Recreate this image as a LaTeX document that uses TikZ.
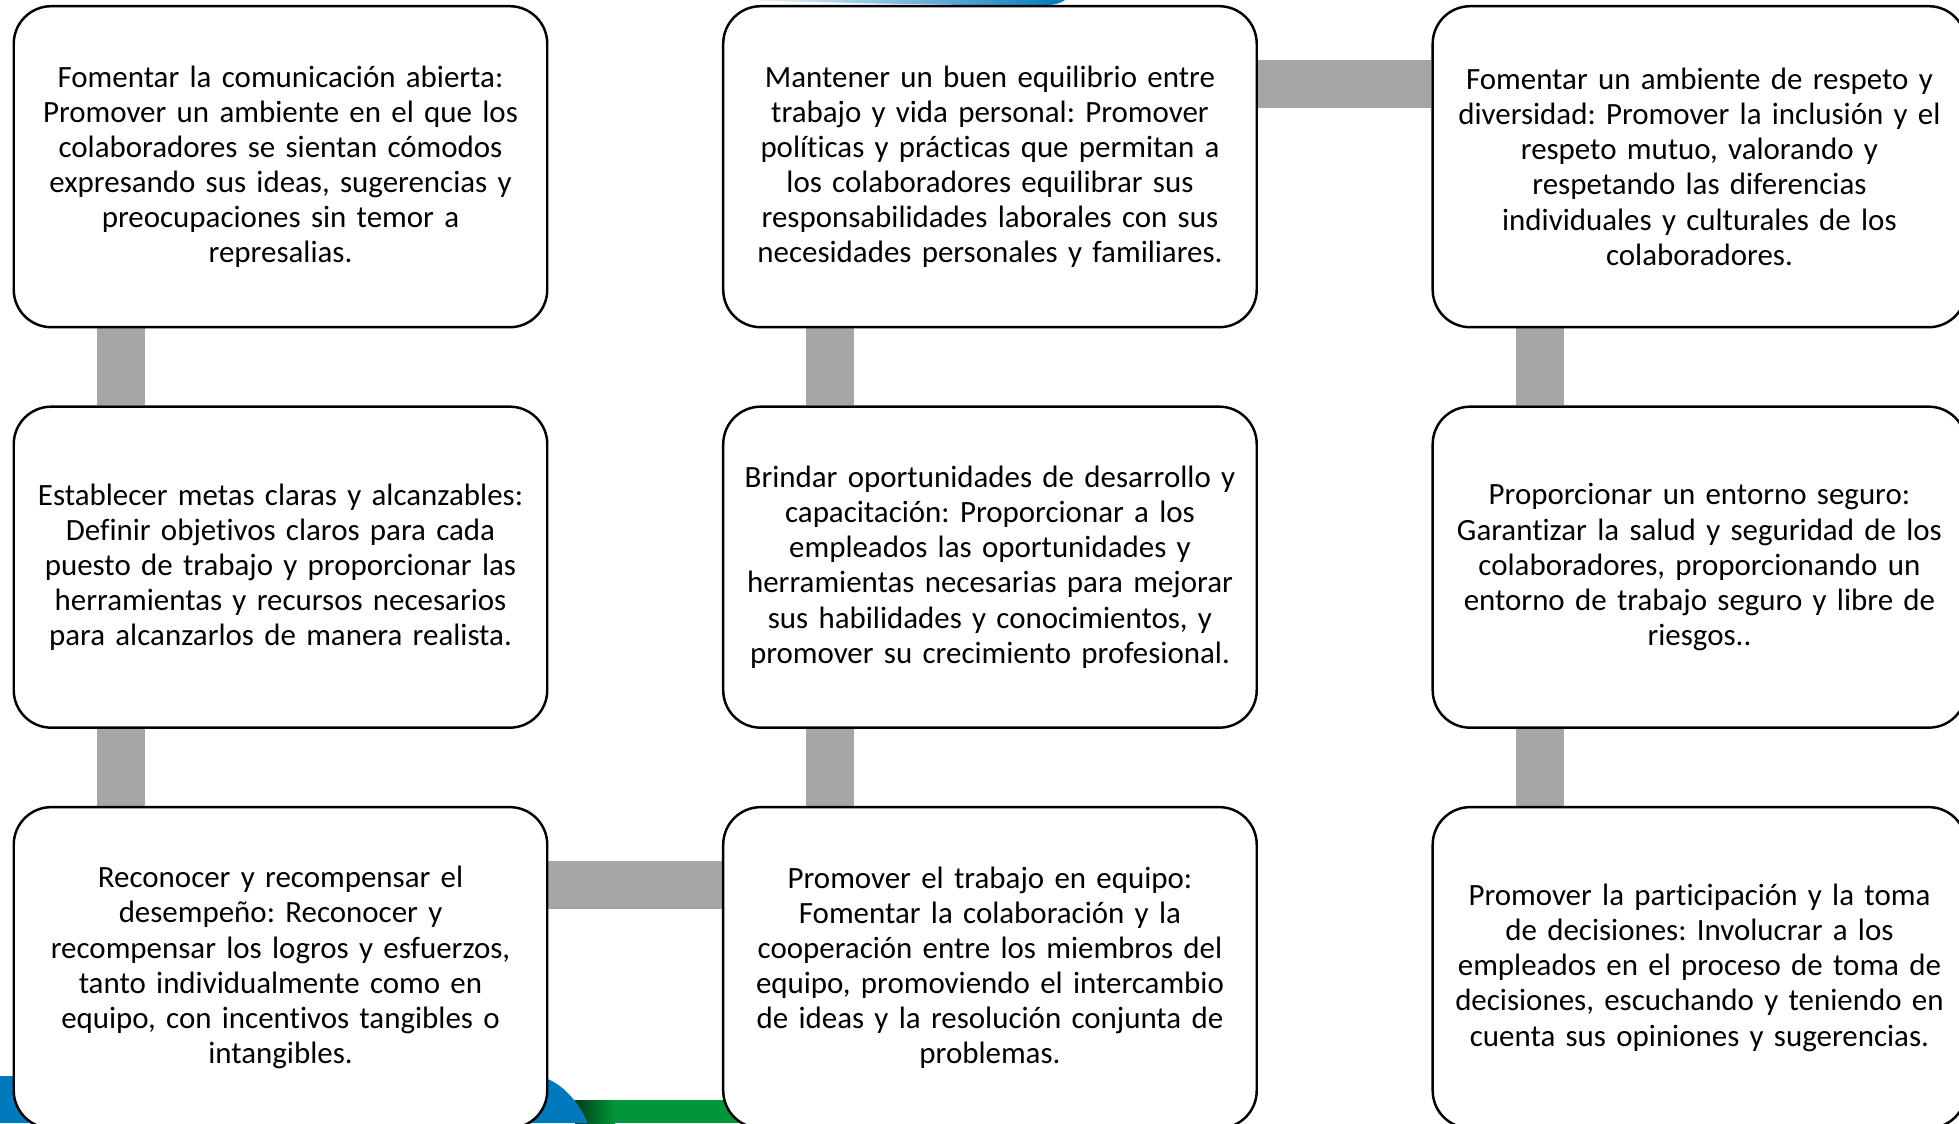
\documentclass[tikz,border=0pt]{standalone}
\usepackage{fontspec}
\setmainfont{Carlito}[Ligatures=CommonOff]
\usepackage{tikz}
\usetikzlibrary{positioning, backgrounds}

\definecolor{grisbarra}{HTML}{A6A6A6}
\definecolor{azulfondo}{HTML}{0079BD}
\definecolor{verdefondo}{HTML}{00973A}

\frenchspacing
\tikzset{
  caja/.style={draw, line width=1.4pt, fill=white, rounded corners=0.75cm,
    minimum width=10.67cm, minimum height=6.42cm, text width=10.3cm,
    align=center, font=\fontsize{17.6}{20}\selectfont},
  barra/.style={draw=grisbarra, line width=0.96cm},
}

\begin{document}
\begin{tikzpicture}
    \useasboundingbox (0,0) rectangle (39.18,-22.46);

    % Columna 1
    \node[caja] (com) at (5.61,-3.334) {Fomentar la comunicación abierta:\\
      Promover un ambiente en el que los\\ colaboradores se sientan cómodos\\
      expresando sus ideas, sugerencias y\\ preocupaciones sin temor a\\ represalias.};
    \node[caja, below=1.54cm of com] (metas) {Establecer metas claras y alcanzables:\\
      Definir objetivos claros para cada\\ puesto de trabajo y proporcionar las\\
      herramientas y recursos necesarios\\ para alcanzarlos de manera realista.};
    \node[caja, below=1.54cm of metas] (recon) {Reconocer y recompensar el\\
      desempeño: Reconocer y\\ recompensar los logros y esfuerzos,\\
      tanto individualmente como en\\ equipo, con incentivos tangibles o\\ intangibles.};

    % Columna 2
    \node[caja, right=3.47cm of recon] (equipo) {Promover el trabajo en equipo:\\
      Fomentar la colaboración y la\\ cooperación entre los miembros del\\
      equipo, promoviendo el intercambio\\ de ideas y la resolución conjunta de\\ problemas.};
    \node[caja, above=1.54cm of equipo] (desarr) {Brindar oportunidades de desarrollo y\\
      capacitación: Proporcionar a los\\ empleados las oportunidades y\\
      herramientas necesarias para mejorar\\ sus habilidades y conocimientos, y\\
      promover su crecimiento profesional.};
    \node[caja, above=1.54cm of desarr] (equil) {Mantener un buen equilibrio entre\\
      trabajo y vida personal: Promover\\ políticas y prácticas que permitan a\\
      los colaboradores equilibrar sus\\ responsabilidades laborales con sus\\
      necesidades personales y familiares.};

    % Columna 3
    \node[caja, right=3.47cm of equil] (respeto) {Fomentar un ambiente de respeto y\\
      diversidad: Promover la inclusión y el\\ respeto mutuo, valorando y\\
      respetando las diferencias\\ individuales y culturales de los\\ colaboradores.};
    \node[caja, below=1.54cm of respeto] (seguro) {Proporcionar un entorno seguro:\\
      Garantizar la salud y seguridad de los\\ colaboradores, proporcionando un\\
      entorno de trabajo seguro y libre de\\ riesgos..};
    \node[caja, below=1.54cm of seguro] (partic) {Promover la participación y la toma\\
      de decisiones: Involucrar a los\\ empleados en el proceso de toma de\\
      decisiones, escuchando y teniendo en\\ cuenta sus opiniones y sugerencias.};

    \begin{scope}[on background layer]
        % Fondo de la diapositiva
        \shade[left color=white, right color=azulfondo]
            (14.6,0) -- (21.3,0) .. controls (21.2,-0.08) and (21.0,-0.12) .. (20.6,-0.12)
            -- (17.5,-0.07) -- cycle;
        \fill[verdefondo] (11.3,-22.0) rectangle (16,-22.46);
        \shade[left color=verdefondo!40!black, right color=verdefondo]
            (11.5,-22.0) rectangle (12.3,-22.46);
        \fill[azulfondo] (0,-21.52) -- (10.9,-21.56)
            .. controls (11.3,-21.7) and (11.6,-22.1) .. (11.75,-22.46) -- (0,-22.46) -- cycle;

        % Conectores
        \draw[barra] ([xshift=2.17cm]com.south west) -- ([xshift=2.17cm]metas.north west);
        \draw[barra] ([xshift=2.17cm]metas.south west) -- ([xshift=2.17cm]recon.north west);
        \draw[barra] ([yshift=-1.58cm]recon.north east) -- ([yshift=-1.58cm]equipo.north west);
        \draw[barra] ([xshift=2.17cm]equipo.north west) -- ([xshift=2.17cm]desarr.south west);
        \draw[barra] ([xshift=2.17cm]desarr.north west) -- ([xshift=2.17cm]equil.south west);
        \draw[barra] ([yshift=-1.58cm]equil.north east) -- ([yshift=-1.58cm]respeto.north west);
        \draw[barra] ([xshift=2.17cm]respeto.south west) -- ([xshift=2.17cm]seguro.north west);
        \draw[barra] ([xshift=2.17cm]seguro.south west) -- ([xshift=2.17cm]partic.north west);
    \end{scope}
\end{tikzpicture}
\end{document}
